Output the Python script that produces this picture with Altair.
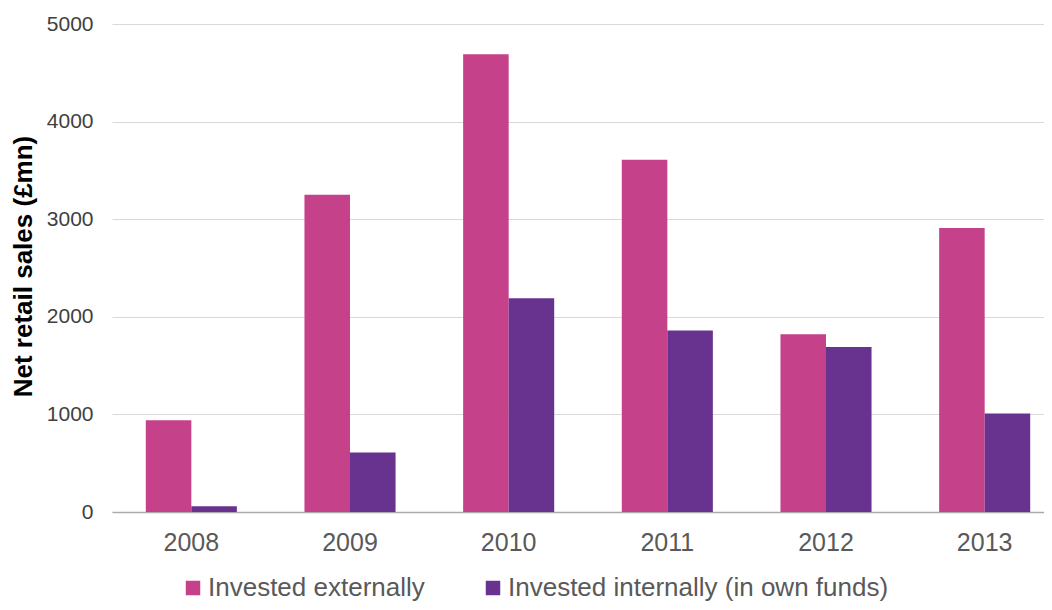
import altair as alt
import pandas as pd

years = ["2008", "2009", "2010", "2011", "2012", "2013"]
series = ["Invested externally", "Invested internally (in own funds)"]
external = [940, 3250, 4690, 3610, 1820, 2910]
internal = [60, 610, 2190, 1860, 1690, 1010]
y_ticks = [0, 1000, 2000, 3000, 4000, 5000]
colors = ["#C5418A", "#67338F"]

rows = []
for i, yr in enumerate(years):
    rows.append({"year": yr, "series": series[0], "value": external[i]})
    rows.append({"year": yr, "series": series[1], "value": internal[i]})
df = pd.DataFrame(rows)

FONT = "Liberation Sans"

chart = alt.Chart(df).mark_bar().encode(
    x=alt.X("year:N", sort=years,
            scale=alt.Scale(paddingInner=0.426, paddingOuter=0.213),
            axis=alt.Axis(title=None, labelAngle=0, labelFontSize=25, labelColor="#595959",
                          labelFont=FONT, ticks=False, labelPadding=18, domain=True,
                          domainColor="#ABABAB", domainWidth=1.5, grid=False)),
    xOffset=alt.XOffset("series:N", sort=series),
    y=alt.Y("value:Q", scale=alt.Scale(domain=[0, 5000], nice=False),
            axis=alt.Axis(title="Net retail sales (£mn)", values=y_ticks, format="d",
                          labelFontSize=21, labelColor="#404040", labelFont=FONT,
                          ticks=False, domain=False, labelPadding=19,
                          gridColor="#D9D9D9", gridWidth=1,
                          titleFont=FONT, titleFontSize=26, titleFontWeight="bold",
                          titleColor="#000000", titleX=-81, titleY=242,
                          titleBaseline="alphabetic")),
    color=alt.Color("series:N", sort=series,
                    scale=alt.Scale(domain=series, range=colors),
                    legend=alt.Legend(title=None, orient="none", legendX=68, legendY=551,
                                      direction="horizontal", symbolType="square",
                                      symbolSize=210, symbolStrokeWidth=0,
                                      labelFontSize=26, labelColor="#595959", labelFont=FONT,
                                      labelOffset=2, columnPadding=55, padding=0,
                                      labelLimit=600)),
).properties(
    width=952, height=488,
    background="white",
    autosize=alt.AutoSizeParams(type="none"),
    padding={"left": 104, "top": 16, "right": -20, "bottom": 90},
).configure_view(stroke=None, strokeWidth=0)

chart.save("out.html", embed_options={"renderer": "svg", "actions": False})
